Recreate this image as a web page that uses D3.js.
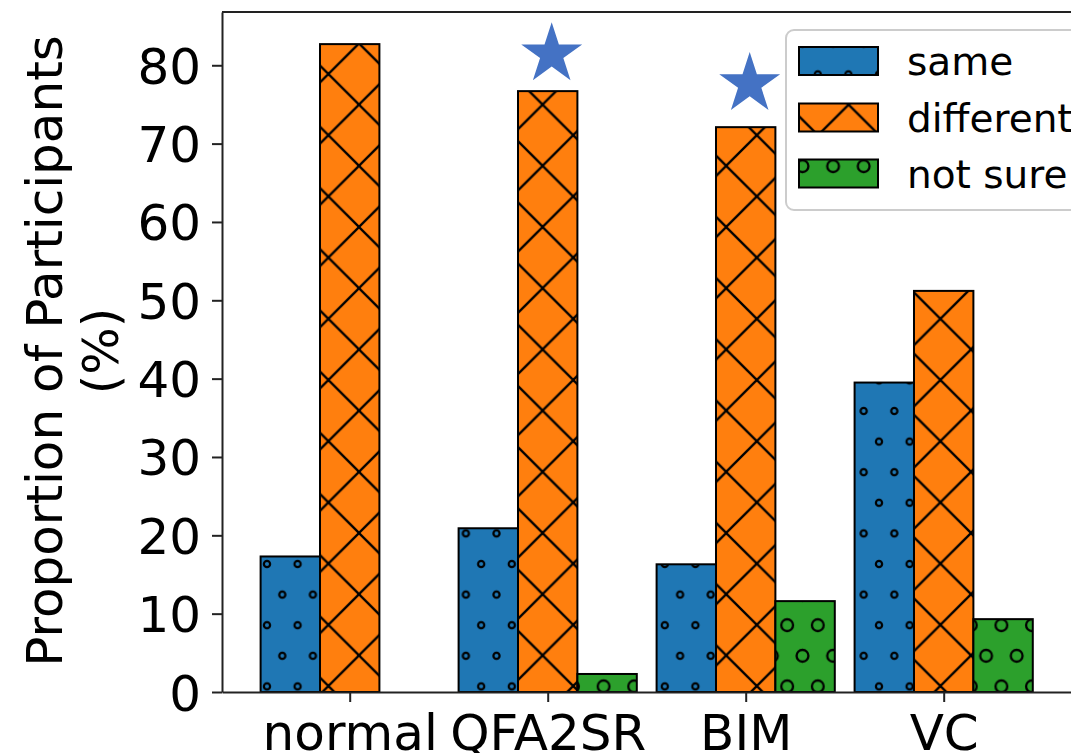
<!DOCTYPE html>
<html>
<head>
<meta charset="utf-8">
<script src="https://cdn.jsdelivr.net/npm/d3@7"></script>
<style>
  html, body { margin: 0; padding: 0; background: #fff; }
  svg { display: block; }
  text { font-family: "DejaVu Sans", sans-serif; }
</style>
</head>
<body>
<svg id="chart" width="1071" height="753"></svg>
<script>
// ---- data ----
const categories = ["normal", "QFA2SR", "BIM", "VC"];
const seriesNames = ["same", "different", "not sure"];
const sameValues = [17.3, 20.9, 16.3, 39.5];
const differentValues = [82.7, 76.7, 72.1, 51.2];
const notSureValues = [0, 2.3, 11.6, 9.3];
const yTickValues = [0, 10, 20, 30, 40, 50, 60, 70, 80];
const starCategories = ["QFA2SR", "BIM"];
const starValues = [81.4, 77.6];

// ---- styling ----
const colors = ["#1f77b4", "#ff7f0e", "#2ca02c"];
const patternIds = ["hatch-small-o", "hatch-x", "hatch-big-o"];
const seriesValues = [sameValues, differentValues, notSureValues];
const barWidth = 0.3;

const svg = d3.select("#chart");
const plot = { left: 222, right: 1071.4, top: 12, bottom: 692 };

const x = d3.scaleLinear().domain([-0.645, 3.645]).range([plot.left, plot.right]);
const y = d3.scaleLinear().domain([0, 86.8]).range([plot.bottom, plot.top]);

// ---- hatch patterns (global lattice, like matplotlib) ----
const defs = svg.append("defs");
const s = 30.6;
function circlePattern(id, color, r, sw) {
  const p = defs.append("pattern").attr("id", id)
    .attr("patternUnits", "userSpaceOnUse")
    .attr("x", 22.2).attr("y", 13.2)
    .attr("width", s).attr("height", 2 * s);
  p.append("rect").attr("width", s).attr("height", 2 * s).attr("fill", color);
  [[0, 0], [s, 0], [0, 2 * s], [s, 2 * s], [s / 2, s]].forEach(c => {
    p.append("circle").attr("cx", c[0]).attr("cy", c[1]).attr("r", r)
      .attr("fill", "none").attr("stroke", "#000").attr("stroke-width", sw);
  });
}
function crossPattern(id, color) {
  const t = 2 * s;
  const p = defs.append("pattern").attr("id", id)
    .attr("patternUnits", "userSpaceOnUse")
    .attr("x", 53).attr("y", 43.4)
    .attr("width", t).attr("height", t);
  p.append("rect").attr("width", t).attr("height", t).attr("fill", color);
  [-t, 0, t].forEach(c => {
    p.append("line").attr("x1", -t).attr("y1", -t + c).attr("x2", 2 * t).attr("y2", 2 * t + c)
      .attr("stroke", "#000").attr("stroke-width", 2.3);
  });
  [0, t, 2 * t].forEach(c => {
    p.append("line").attr("x1", -t).attr("y1", c + t).attr("x2", 2 * t).attr("y2", c - 2 * t)
      .attr("stroke", "#000").attr("stroke-width", 2.3);
  });
}
circlePattern(patternIds[0], colors[0], 3.1, 2.2);
crossPattern(patternIds[1], colors[1]);
circlePattern(patternIds[2], colors[2], 5.9, 2.3);

// ---- bars ----
const barData = [];
seriesValues.forEach((vals, k) => {
  vals.forEach((v, i) => barData.push({ k, i, v }));
});

svg.append("g").selectAll("rect").data(barData).enter().append("rect")
  .attr("x", d => x(d.i + (d.k - 1) * barWidth - barWidth / 2))
  .attr("width", d => x(barWidth) - x(0))
  .attr("y", d => y(d.v))
  .attr("height", d => y(0) - y(d.v))
  .attr("fill", d => `url(#${patternIds[d.k]})`)
  .attr("stroke", "#000")
  .attr("stroke-width", 2);

// ---- axes ----
const yAxis = d3.axisLeft(y).tickValues(yTickValues).tickSize(10).tickSizeOuter(0).tickPadding(11);
const gy = svg.append("g").attr("transform", `translate(${plot.left},0)`).call(yAxis);
gy.selectAll("text").attr("font-size", 50).attr("fill", "#000").attr("dy", "0.36em")
  .style("font-family", "DejaVu Sans");
gy.selectAll(".tick line").attr("stroke", "#222").attr("stroke-width", 2);
gy.select(".domain").attr("stroke", "#222").attr("stroke-width", 2);

const xAxis = d3.axisBottom(x).tickValues(categories.map((c, i) => i))
  .tickFormat(i => categories[i]).tickSize(10).tickSizeOuter(0).tickPadding(12);
const gx = svg.append("g").attr("transform", `translate(0,${plot.bottom})`).call(xAxis);
gx.selectAll("text").attr("font-size", 50).attr("fill", "#000")
  .style("font-family", "DejaVu Sans");
gx.selectAll(".tick line").attr("stroke", "#222").attr("stroke-width", 2);
gx.select(".domain").attr("stroke", "#222").attr("stroke-width", 2);

// top spine
svg.append("line").attr("x1", plot.left).attr("x2", plot.right)
  .attr("y1", plot.top).attr("y2", plot.top)
  .attr("stroke", "#222").attr("stroke-width", 2);

// ---- y label ----
const ylab = [["Proportion of Participants", 62], ["(%)", 118]];
ylab.forEach(([t, bx]) => {
  svg.append("text")
    .attr("transform", `translate(${bx},351) rotate(-90)`)
    .attr("text-anchor", "middle")
    .attr("font-size", 50)
    .attr("fill", "#000")
    .text(t);
});

// ---- stars ----
const star = d3.symbol().type(d3.symbolStar).size(1150);
svg.append("g").selectAll("path").data(starCategories).enter().append("path")
  .attr("d", star)
  .attr("transform", (c, j) => `translate(${x(categories.indexOf(c)) + 4},${y(starValues[j])})`)
  .attr("fill", "#4472C4");

// ---- legend ----
const lg = svg.append("g");
lg.append("rect").attr("x", 786).attr("y", 30).attr("width", 320).attr("height", 180)
  .attr("rx", 8).attr("fill", "#fff").attr("fill-opacity", 0.8)
  .attr("stroke", "#cccccc").attr("stroke-width", 2);
const rowCenters = [61, 117.5, 173.5];
seriesNames.forEach((name, k) => {
  lg.append("rect").attr("x", 799).attr("y", rowCenters[k] - 14)
    .attr("width", 79).attr("height", 28)
    .attr("fill", `url(#${patternIds[k]})`).attr("stroke", "#000").attr("stroke-width", 2);
  lg.append("text").attr("x", 907).attr("y", rowCenters[k]).attr("dy", "0.36em")
    .attr("font-size", 39).attr("fill", "#000").text(name);
});
</script>
</body>
</html>
